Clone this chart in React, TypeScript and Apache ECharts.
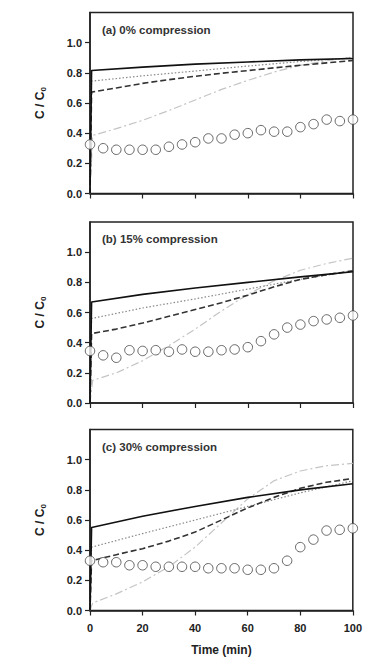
import React, { useEffect, useRef } from "react";
import * as echarts from "echarts";

const timePoints = [0, 5, 10, 15, 20, 25, 30, 35, 40, 45, 50, 55, 60, 65, 70, 75, 80, 85, 90, 95, 100];
const xTicks = [0, 20, 40, 60, 80, 100];
const yTicks = [0, 0.2, 0.4, 0.6, 0.8, 1.0];
const panelTitles = ["(a) 0% compression", "(b) 15% compression", "(c) 30% compression"];

// Observed data (open circles)
const obsA = [0.325, 0.3, 0.29, 0.29, 0.29, 0.29, 0.31, 0.325, 0.34, 0.365, 0.365, 0.39, 0.4, 0.42, 0.41, 0.41, 0.44, 0.46, 0.49, 0.48, 0.49];
const obsB = [0.345, 0.316, 0.3, 0.35, 0.345, 0.35, 0.34, 0.355, 0.34, 0.34, 0.35, 0.355, 0.37, 0.41, 0.455, 0.5, 0.52, 0.543, 0.554, 0.565, 0.58];
const obsC = [0.33, 0.32, 0.32, 0.3, 0.3, 0.29, 0.29, 0.29, 0.29, 0.28, 0.28, 0.28, 0.27, 0.27, 0.28, 0.33, 0.42, 0.47, 0.53, 0.535, 0.545];

// Model curves: [time, C/C0]
const aSolid = [[0, 0], [0.6, 0.815], [20, 0.838], [40, 0.858], [60, 0.872], [80, 0.886], [100, 0.895]];
const aDotted = [[0, 0], [0.6, 0.745], [20, 0.78], [40, 0.812], [60, 0.845], [80, 0.875], [100, 0.9]];
const aDashed = [[0, 0], [0.6, 0.672], [10, 0.7], [20, 0.73], [30, 0.755], [40, 0.777], [50, 0.797], [60, 0.815], [70, 0.833], [80, 0.85], [90, 0.866], [100, 0.882]];
const aDashDot = [[0, 0], [1, 0.385], [10, 0.43], [20, 0.485], [30, 0.55], [40, 0.62], [50, 0.69], [60, 0.75], [70, 0.805], [80, 0.85], [90, 0.88], [100, 0.905]];

const bSolid = [[0, 0], [0.6, 0.67], [20, 0.72], [40, 0.762], [60, 0.8], [80, 0.836], [100, 0.87]];
const bDotted = [[0, 0], [0.6, 0.56], [20, 0.63], [40, 0.69], [60, 0.755], [80, 0.82], [100, 0.875]];
const bDashed = [[0, 0], [0.6, 0.46], [10, 0.49], [20, 0.53], [30, 0.575], [40, 0.62], [50, 0.665], [60, 0.715], [70, 0.77], [80, 0.82], [90, 0.85], [100, 0.877]];
const bDashDot = [[0, 0], [1, 0.15], [10, 0.2], [20, 0.28], [30, 0.38], [40, 0.49], [50, 0.61], [60, 0.72], [70, 0.81], [80, 0.88], [90, 0.925], [100, 0.96]];

const cSolid = [[0, 0], [0.6, 0.55], [20, 0.625], [40, 0.69], [60, 0.75], [80, 0.8], [100, 0.84]];
const cDotted = [[0, 0], [0.6, 0.42], [20, 0.51], [40, 0.6], [60, 0.69], [80, 0.78], [100, 0.86]];
const cDashed = [[0, 0], [0.6, 0.33], [10, 0.37], [20, 0.41], [30, 0.46], [40, 0.52], [50, 0.6], [60, 0.68], [70, 0.75], [80, 0.81], [90, 0.85], [100, 0.875]];
const cDashDot = [[0, 0], [1, 0.05], [10, 0.11], [20, 0.19], [30, 0.29], [40, 0.42], [50, 0.58], [60, 0.74], [70, 0.86], [80, 0.925], [90, 0.96], [100, 0.975]];

const panels = [
  { obs: obsA, solid: aSolid, dotted: aDotted, dashed: aDashed, dashDot: aDashDot },
  { obs: obsB, solid: bSolid, dotted: bDotted, dashed: bDashed, dashDot: bDashDot },
  { obs: obsC, solid: cSolid, dotted: cDotted, dashed: cDashed, dashDot: cDashDot },
];

const FONT = "Liberation Sans";
const gridTops = [12.5, 222, 429.5];
const gridHeight = 181;

export default function App() {
  const ref = useRef<HTMLDivElement>(null);

  useEffect(() => {
    if (!ref.current) return;
    const chart = echarts.init(ref.current, null, { renderer: "svg" });

    const grids = gridTops.map((top) => ({
      left: 90,
      width: 263,
      top,
      height: gridHeight,
      show: true,
      borderColor: "#222",
      borderWidth: 1.5,
      backgroundColor: "transparent",
    }));

    const xAxes = panels.map((_, i) => ({
      type: "value",
      gridIndex: i,
      min: 0,
      max: 100,
      interval: 20,
      splitLine: { show: false },
      axisLine: { show: true, lineStyle: { color: "#222", width: 1.5 } },
      axisTick: { show: true, length: 5, inside: false, lineStyle: { color: "#222", width: 1.2 }, customValues: xTicks },
      axisLabel: {
        show: i === 2,
        margin: 12,
        color: "#222",
        fontFamily: FONT,
        fontWeight: "bold",
        fontSize: 11,
        customValues: xTicks,
      },
      name: i === 2 ? "Time (min)" : "",
      nameLocation: "middle",
      nameGap: 33,
      nameTextStyle: { fontFamily: FONT, fontWeight: "bold", fontSize: 12, color: "#222" },
    }));

    const yAxes = panels.map((_, i) => ({
      type: "value",
      gridIndex: i,
      min: 0,
      max: 1.2,
      interval: 0.2,
      splitLine: { show: false },
      axisLine: { show: true, lineStyle: { color: "#222", width: 1.5 } },
      axisTick: { show: true, length: 5, inside: false, lineStyle: { color: "#222", width: 1.2 }, customValues: yTicks },
      axisLabel: {
        margin: 8,
        color: "#222",
        fontFamily: FONT,
        fontWeight: "bold",
        fontSize: 11,
        customValues: yTicks,
        formatter: (v: number) => v.toFixed(1),
      },
      name: "{a|C / C}{b|0}",
      nameLocation: "middle",
      nameGap: 43,
      nameRotate: 90,
      nameTextStyle: {
        rich: {
          a: { fontFamily: FONT, fontWeight: "bold", fontSize: 12, color: "#222" },
          b: { fontFamily: FONT, fontWeight: "bold", fontSize: 8, color: "#222", padding: [7, 0, 0, 0] },
        },
      },
    }));

    const series: any[] = [];
    panels.forEach((p, i) => {
      const common = { type: "line", xAxisIndex: i, yAxisIndex: i, showSymbol: false, symbol: "none", smooth: false };
      series.push({ ...common, data: p.dashDot, lineStyle: { color: "#c4c4c4", width: 1.2, type: [8, 3, 2, 3] }, z: 2 });
      series.push({ ...common, data: p.dotted, lineStyle: { color: "#888", width: 1.2, type: [1.5, 2] }, z: 3 });
      series.push({ ...common, data: p.dashed, lineStyle: { color: "#333", width: 1.6, type: [6, 3] }, z: 4 });
      series.push({ ...common, data: p.solid, lineStyle: { color: "#111", width: 1.6 }, z: 5 });
      series.push({
        type: "scatter",
        xAxisIndex: i,
        yAxisIndex: i,
        symbol: "circle",
        symbolSize: 9.5,
        data: timePoints.map((t, k) => [t, p.obs[k]]),
        itemStyle: { color: "#fff", borderColor: "#444", borderWidth: 1 },
        z: 6,
        clip: false,
      });
    });

    chart.setOption({
      animation: false,
      backgroundColor: "#fff",
      grid: grids,
      xAxis: xAxes,
      yAxis: yAxes,
      title: panelTitles.map((t, i) => ({
        text: t,
        left: 102,
        top: gridTops[i] + 11,
        textStyle: { fontFamily: FONT, fontWeight: "bold", fontSize: 11.5, color: "#333" },
        padding: 0,
      })),
      series,
    });

    return () => chart.dispose();
  }, []);

  return (
    <div
      ref={ref}
      style={{ position: "fixed", left: 0, top: 0, width: 365, height: 665 }}
    />
  );
}
